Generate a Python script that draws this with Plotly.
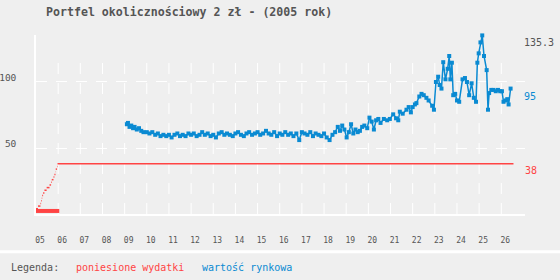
import plotly.graph_objects as go

# ---------------- data ----------------
years = list(range(2005, 2027))
year_labels = [f"{y % 100:02d}" for y in years]

# cumulative expenditure (zł) – step starts
spend_t = [2005.00, 2005.09, 2005.20, 2005.23, 2005.26, 2005.28, 2005.32, 2005.38,
           2005.48, 2005.61, 2005.68, 2005.71, 2005.79, 2005.83, 2005.88, 2005.89,
           2005.95, 2005.97]
spend_v = [4, 6, 8, 10, 12, 14, 16, 18, 20, 22, 24, 26, 28, 30, 32, 34, 36, 38]
spend_end = 2026.55
base_t = [2005.0, 2006.05]
base_v = [2.3, 2.3]

# market value (zł)
value_t = [2009.10, 2009.15, 2009.22, 2009.30, 2009.38, 2009.45, 2009.55, 2009.65, 2009.75, 2009.85,
           2010.00, 2010.12, 2010.25, 2010.38, 2010.50, 2010.62, 2010.75, 2010.88,
           2011.00, 2011.12, 2011.25, 2011.38, 2011.50, 2011.62, 2011.75, 2011.88,
           2012.00, 2012.12, 2012.25, 2012.38, 2012.50, 2012.62, 2012.75, 2012.88,
           2013.00, 2013.12, 2013.25, 2013.38, 2013.50, 2013.62, 2013.75, 2013.88,
           2014.00, 2014.12, 2014.25, 2014.38, 2014.50, 2014.62, 2014.75, 2014.88,
           2015.00, 2015.12, 2015.25, 2015.38, 2015.50, 2015.62, 2015.75, 2015.88,
           2016.00, 2016.12, 2016.25, 2016.38, 2016.50, 2016.62, 2016.75, 2016.88,
           2017.00, 2017.12, 2017.25, 2017.38, 2017.50, 2017.62, 2017.75, 2017.88,
           2018.00, 2018.12, 2018.25, 2018.38, 2018.50, 2018.62, 2018.72, 2018.82, 2018.92,
           2019.02, 2019.12, 2019.22, 2019.32, 2019.42, 2019.52, 2019.62, 2019.72, 2019.82, 2019.95,
           2020.05, 2020.15, 2020.25, 2020.35, 2020.45, 2020.55, 2020.70, 2020.85, 2020.97,
           2021.12, 2021.25, 2021.35, 2021.42, 2021.55, 2021.72, 2021.82, 2021.92,
           2022.00, 2022.10, 2022.17, 2022.30, 2022.40, 2022.50, 2022.62, 2022.72, 2022.88, 2022.96,
           2023.05, 2023.15, 2023.22, 2023.30, 2023.38, 2023.48, 2023.58, 2023.65, 2023.70, 2023.77, 2023.83,
           2023.92, 2024.00, 2024.10, 2024.25, 2024.36, 2024.45, 2024.55, 2024.66, 2024.76, 2024.86,
           2024.92, 2024.98, 2025.06, 2025.14, 2025.22, 2025.34, 2025.40, 2025.45, 2025.55, 2025.65,
           2025.75, 2025.85, 2025.95, 2026.03, 2026.10, 2026.20, 2026.27, 2026.33, 2026.42]
value_v = [68, 69, 66, 67, 65, 66, 64, 65, 63, 62,
           62, 61, 62, 60, 61, 59, 60, 59,
           60, 58, 60, 61, 59, 60, 59, 61,
           60, 61, 59, 60, 62, 60, 61, 59,
           60, 58, 61, 62, 60, 61, 60, 59,
           61, 62, 60, 59, 61, 62, 60, 61,
           62, 60, 61, 63, 61, 60, 62, 59,
           61, 60, 62, 60, 61, 59, 61, 56,
           62, 61, 60, 62, 59, 61, 60, 59,
           61, 58, 56, 60, 62, 66, 63, 67, 64,
           58, 62, 68, 61, 64, 62, 63, 66, 67, 65,
           73, 70, 64, 71, 72, 69, 72, 71, 72,
           75.5, 72.5, 71, 77.5, 76, 79, 81, 77,
           81, 83, 84, 89, 91, 90, 88, 86, 82, 79,
           100, 104, 97.7, 95, 115, 102, 110, 119.7, 102, 114.6, 90,
           91, 86, 85, 102, 103, 100, 90, 99, 88, 85,
           114.6, 121.7, 130, 135.3, 119.7, 109, 79, 91.6, 94, 94,
           93, 94, 93, 93, 85, 86, 87, 83, 95]

blue = "#0a8ad2"
red = "#ff4444"
grey = "#555555"
bg = "#efefef"
mono = "DejaVu Sans Mono"

# horizontal-only step segments for expenditure
seg_x, seg_y = [], []
ends = spend_t[1:] + [spend_end]
for t0, t1, v in zip(spend_t, ends, spend_v):
    seg_x += [t0, t1, None]
    seg_y += [v, v, None]

fig = go.Figure()
fig.add_trace(go.Scatter(x=base_t, y=base_v, mode="lines",
                         line=dict(color=red, width=4), hoverinfo="skip"))
fig.add_trace(go.Scatter(x=seg_x, y=seg_y, mode="lines",
                         line=dict(color=red, width=1.5), name="poniesione wydatki"))
fig.add_trace(go.Scatter(x=value_t, y=value_v, mode="lines+markers",
                         line=dict(color=blue, width=1.5),
                         marker=dict(symbol="square", size=4, color=blue),
                         name="wartość rynkowa", cliponaxis=False))

# vertical dashed grid lines (partial height)
shapes = []
for y in years[1:]:
    shapes.append(dict(type="line", xref="x", yref="y", x0=y, x1=y, y0=0, y1=114.4,
                       line=dict(color="white", width=1, dash="11px,9px"), layer="below"))
# separator above legend
shapes.append(dict(type="line", xref="paper", yref="paper",
                   x0=-36 / 489, x1=524 / 489, y0=-0.2107, y1=-0.2107,
                   line=dict(color="white", width=3)))

ann = []
ann.append(dict(xref="paper", yref="y", x=1, y=max(value_v), text=f"{max(value_v):.1f}",
                xanchor="left", yanchor="middle", xshift=-3, yshift=-7.5, showarrow=False,
                font=dict(family=mono, size=10, color=grey)))
ann.append(dict(xref="paper", yref="y", x=1, y=value_v[-1], text=f"{value_v[-1]:g}",
                xanchor="left", yanchor="middle", xshift=-3, yshift=-7.5, showarrow=False,
                font=dict(family=mono, size=10, color=blue)))
ann.append(dict(xref="paper", yref="y", x=1, y=spend_v[-1], text=f"{spend_v[-1]:g}",
                xanchor="left", yanchor="middle", xshift=-2, yshift=-7, showarrow=False,
                font=dict(family=mono, size=10, color=red)))
# legend texts
for txt, px, col in [("Legenda:", 9, grey), ("poniesione wydatki", 74, red), ("wartość rynkowa", 200, blue)]:
    ann.append(dict(xref="paper", yref="paper", x=0, y=0, text=txt, xanchor="left", yanchor="middle",
                    xshift=px - 36, yshift=-53, showarrow=False,
                    font=dict(family=mono, size=10, color=col)))

fig.update_layout(
    width=560, height=280,
    margin=dict(l=36, r=35, t=35, b=66),
    paper_bgcolor=bg, plot_bgcolor=bg,
    showlegend=False,
    title=dict(text="<b>Portfel okolicznościowy 2 zł - (2005 rok)</b>",
               x=46 / 560, xanchor="left", xref="container",
               y=1 - 12 / 280, yanchor="middle", yref="container",
               font=dict(family=mono, size=11.6, color=grey)),
    shapes=shapes, annotations=ann,
    xaxis=dict(range=[2005, 2027.07], tickvals=years, ticktext=year_labels,
               showgrid=False, zeroline=False, showline=True, linecolor="white", linewidth=1.5,
               ticks="", ticklabelstandoff=18, ticklabelshift=4, automargin=False,
               tickfont=dict(family=mono, size=8, color=grey), fixedrange=True),
    yaxis=dict(range=[0, 135.6], tickvals=[50, 100], ticktext=["50", "100"],
               showgrid=True, gridcolor="white", gridwidth=1, griddash="11px,9px",
               zeroline=False, showline=True, linecolor="white", linewidth=1.5,
               ticks="", ticklabelstandoff=16, ticklabelshift=-4, automargin=False,
               tickfont=dict(family=mono, size=9.5, color=grey), fixedrange=True),
)

fig.write_html("out.html", config={"displayModeBar": False})
